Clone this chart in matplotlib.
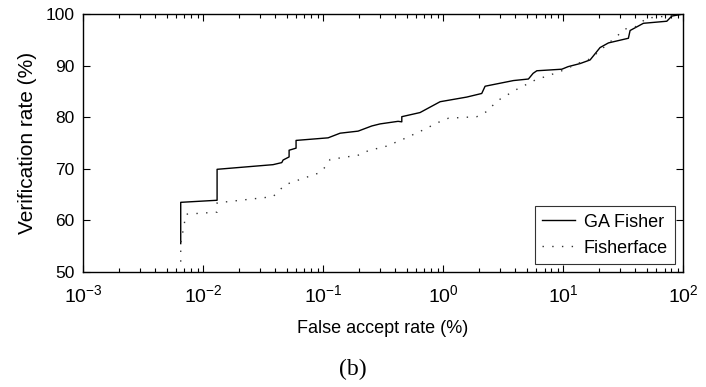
import numpy as np
import matplotlib
matplotlib.use("Agg")
import matplotlib.pyplot as plt
from matplotlib.ticker import LogLocator, FixedLocator

# Fonts: sans for axes, serif for the panel caption
plt.rcParams['font.family'] = ['Liberation Sans', 'DejaVu Sans']
plt.rcParams['mathtext.fontset'] = 'custom'
plt.rcParams['mathtext.rm'] = 'Liberation Sans'
plt.rcParams['mathtext.it'] = 'Liberation Sans'

# Curve data (x in log10 of FAR %, y in %)
ga_log_far = [-2.186, -2.186, -1.883, -1.883, -1.417, -1.344, -1.333, -1.283, -1.283,
              -1.225, -1.225, -0.958, -0.858, -0.708, -0.594, -0.525, -0.375, -0.344,
              -0.344, -0.192, -0.025, 0.197, 0.322, 0.35, 0.392, 0.586, 0.711, 0.75,
              0.781, 0.989, 1.042, 1.142, 1.225, 1.308, 1.378, 1.544, 1.558, 1.669,
              1.864, 1.906, 2.0]
ga_ver = [55.5, 63.5, 63.9, 69.9, 70.8, 71.2, 71.7, 72.3, 73.6,
          74.0, 75.5, 76.0, 76.9, 77.3, 78.3, 78.7, 79.2, 79.1,
          80.1, 80.9, 83.0, 83.9, 84.6, 86.0, 86.2, 87.1, 87.4, 88.5,
          89.0, 89.3, 89.8, 90.4, 91.1, 93.5, 94.4, 95.3, 96.8, 98.2,
          98.6, 99.6, 100.0]

ff_log_far = [-2.186, -2.186, -2.142, -1.883, -1.883, -1.417, -1.317, -1.208, -1.033,
              -0.975, -0.942, -0.692, -0.625, -0.469, -0.317, -0.178, -0.039, 0.044,
              0.281, 0.364, 0.419, 0.475, 0.614, 0.767, 0.919, 0.989, 1.142, 1.225,
              1.448, 1.517, 1.6, 1.697, 1.864, 2.0]
ff_ver = [52.0, 55.5, 61.2, 61.6, 63.4, 64.6, 66.9, 67.8, 69.2,
          70.5, 71.8, 72.7, 73.5, 74.4, 75.9, 77.4, 79.0, 79.8,
          80.1, 81.1, 82.4, 83.5, 85.4, 87.2, 88.4, 89.0, 90.6, 91.3,
          95.7, 97.1, 97.5, 99.2, 99.6, 100.0]

ga_far = 10 ** np.array(ga_log_far)
ff_far = 10 ** np.array(ff_log_far)

fig = plt.figure(figsize=(7.06, 3.87), dpi=100)
ax = fig.add_axes([0.1176, 0.2972, 0.85, 0.6666])

ax.plot(ga_far, ga_ver, color='black', lw=1.0, label='GA Fisher')
ax.plot(ff_far, ff_ver, color='#333333', lw=1.0, linestyle=(0, (1, 6)), label='Fisherface')

ax.set_xscale('log')
ax.set_xlim(1e-3, 1e2)
ax.set_ylim(50, 100)
ax.yaxis.set_major_locator(FixedLocator([50, 60, 70, 80, 90, 100]))
ax.xaxis.set_major_locator(LogLocator(base=10, numticks=10))
ax.xaxis.set_minor_locator(LogLocator(base=10, subs=np.arange(2, 10), numticks=20))

ax.tick_params(which='both', direction='in', top=True, right=True)
ax.tick_params(axis='x', labelsize=14, pad=9)
ax.tick_params(axis='y', labelsize=12.5, pad=6)
ax.tick_params(which='major', length=5, width=0.8)
ax.tick_params(which='minor', length=3, width=0.8)
for s in ax.spines.values():
    s.set_linewidth(1.0)

ax.set_xlabel('False accept rate (%)', fontsize=13, labelpad=10)
ax.set_ylabel('Verification rate (%)', fontsize=15, labelpad=6)

leg = ax.legend(loc='lower right', fontsize=13, frameon=True, fancybox=False,
                edgecolor='black', handlelength=1.8, handletextpad=0.5,
                borderaxespad=0.45, borderpad=0.4, labelspacing=0.5)
leg.get_frame().set_linewidth(0.8)

fig.text(0.5, 0.045, '(b)', ha='center', va='center', fontsize=17,
         family=['Liberation Serif', 'DejaVu Serif'])

fig.savefig('out.png', dpi=100)
